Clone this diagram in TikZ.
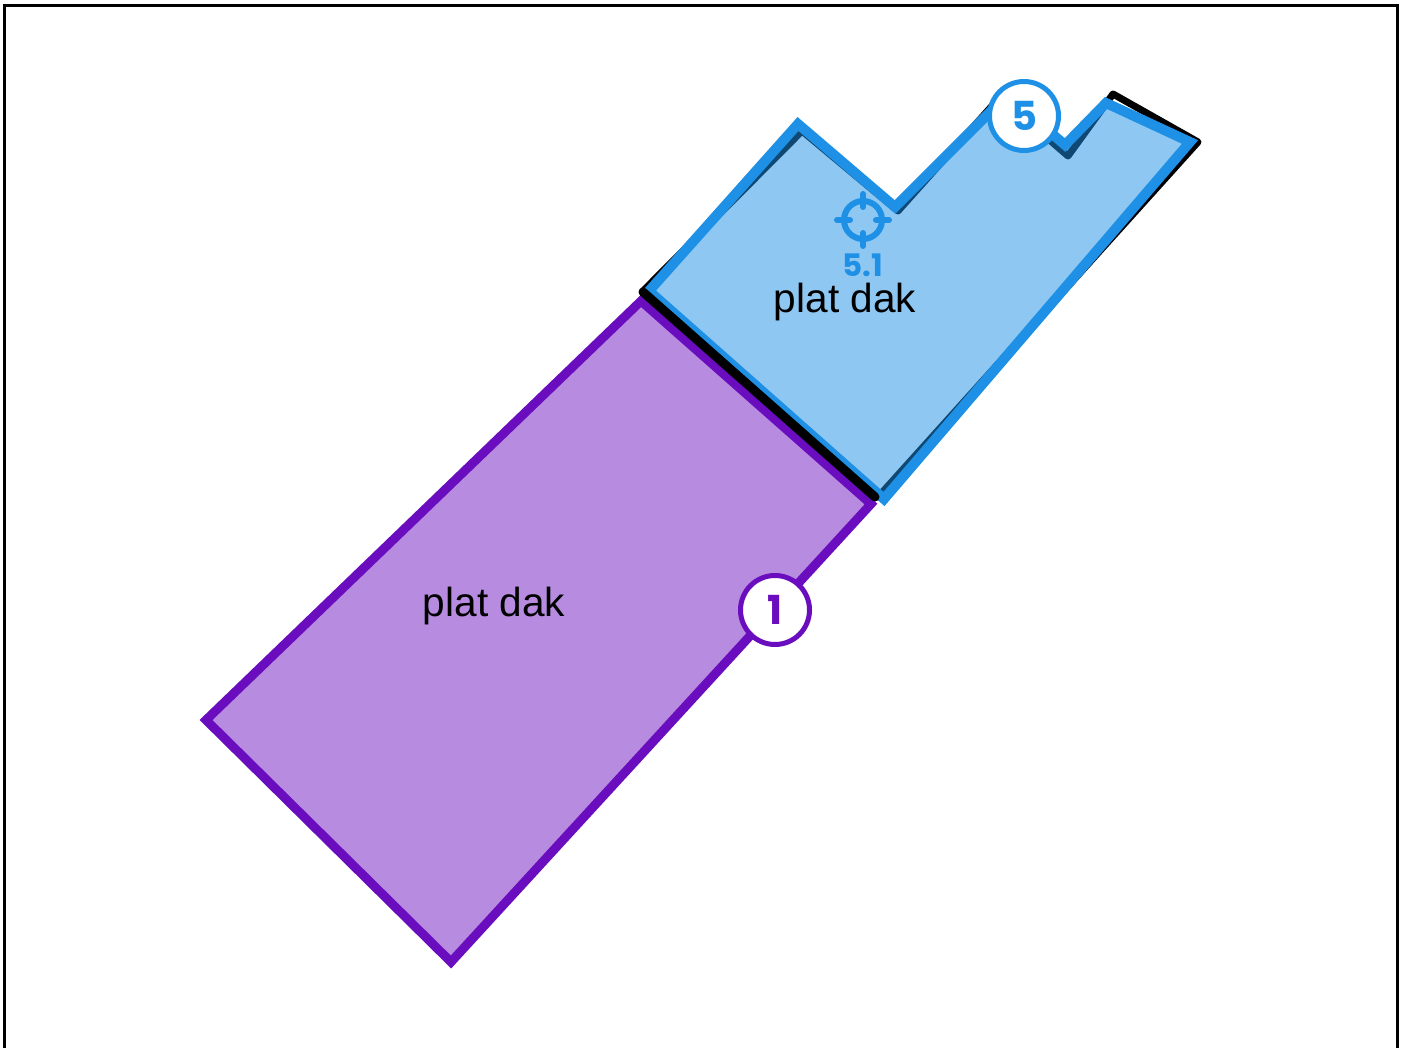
\documentclass[tikz,border=0pt]{standalone}
\usepackage{fontspec}
\setmainfont{Liberation Sans}
\newfontfamily\badgefont{Poppins}
\definecolor{roofblue}{HTML}{1E90E6}
\definecolor{roofpurple}{HTML}{6A0DBE}
\tikzset{
	roof/.style={line width=10pt,line join=miter,miter limit=10},
	roofedge/.style={line width=7pt,line join=round,line cap=round},
	rooflabel/.style={font=\fontsize{40.6}{40.6}\selectfont,inner sep=0pt},
	badge/.style={circle,draw=#1,fill=white,line width=5pt,text=#1,minimum size=69pt,inner sep=0pt,font=\badgefont\bfseries\fontsize{40}{40}\selectfont},
	tagtext/.style={text=roofblue,inner sep=0pt,font=\badgefont\bfseries\fontsize{31}{31}\selectfont}
}
\begin{document}
\begin{tikzpicture}[x=1pt,y=-1pt]
	\useasboundingbox (0,0) rectangle (1405,1048);
	\fill[white] (0,0) rectangle (1405,1048);

	% the frame, it runs off at the bottom
	\draw[line width=3pt] (4,1048) -- (4,5.5) -- (1397.5,5.5) -- (1397.5,1048);

	% the black outline below the blue roof
	\draw[roofedge] (643,291) -- (802,131) -- (898,211) -- (1000,97) -- (1068,156)
		-- (1113,94) -- (1198,142) -- (878,497);

	% the two roofs
	\filldraw[roof,draw=roofblue,fill=roofblue,fill opacity=0.5,draw opacity=1]
		(649,291) -- (798,124) -- (895,207) -- (1007,95) -- (1065,145)
		-- (1106,103) -- (1190,142) -- (884,499) -- cycle;
	\filldraw[roof,line width=9pt,draw=roofpurple,fill=roofpurple,fill opacity=0.48,draw opacity=1]
		(641,301) -- (871,504) -- (451,962) -- (206,720) -- cycle;

	% the shared edge goes on top
	\draw[roofedge,line width=9pt] (643,292) -- (875,497);

	\node[rooflabel] (flatone) at (494,606) {plat dak};
	\node[rooflabel] (flattwo) at (845,302) {plat dak};

	\node[badge=roofpurple] (badgeone) at (775,610) {1};
	\node[badge=roofblue] (badgefive) at (1024,116) {5};

	% the target mark
	\node[circle,draw=roofblue,line width=6pt,minimum size=38pt,inner sep=0pt] (target) at (863,220) {};
	\foreach \a in {0,90,180,270} {
		\draw[roofblue,line width=6pt,line cap=round] (target.center) ++(\a:13) -- ++(\a:13);
	}
	\node[tagtext] (targetlabel) at (863,265) {5.1};
\end{tikzpicture}
\end{document}
